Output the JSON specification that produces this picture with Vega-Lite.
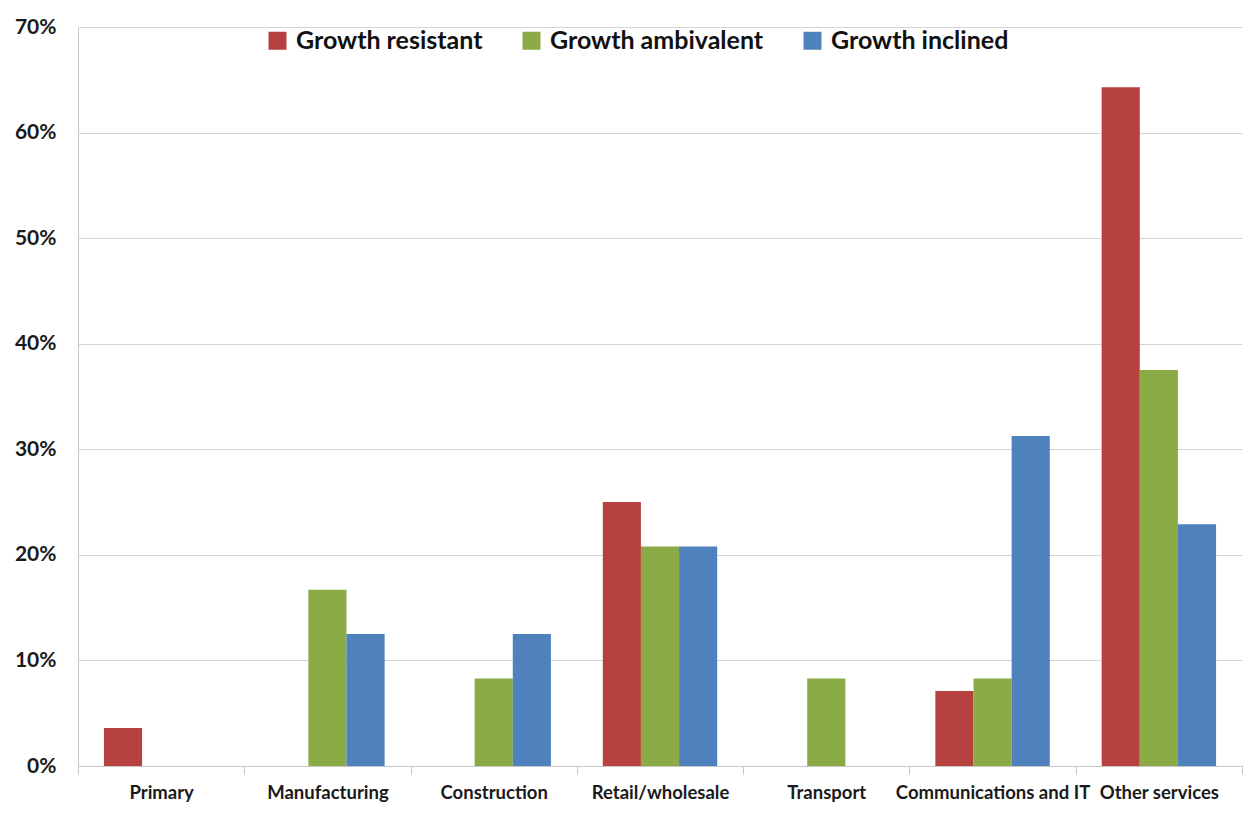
{
  "$schema": "https://vega.github.io/schema/vega-lite/v6.json",
  "autosize": {"type": "none"},
  "width": 1164,
  "height": 739,
  "padding": {"left": 78, "top": 27, "right": 12, "bottom": 56},
  "background": "white",
  "config": {"view": {"stroke": null}, "font": "Lato"},
  "data": {"values": [
    {"sector": "Primary", "group": "Growth resistant", "value": 0.036},
    {"sector": "Primary", "group": "Growth ambivalent", "value": 0},
    {"sector": "Primary", "group": "Growth inclined", "value": 0},
    {"sector": "Manufacturing", "group": "Growth resistant", "value": 0},
    {"sector": "Manufacturing", "group": "Growth ambivalent", "value": 0.167},
    {"sector": "Manufacturing", "group": "Growth inclined", "value": 0.125},
    {"sector": "Construction", "group": "Growth resistant", "value": 0},
    {"sector": "Construction", "group": "Growth ambivalent", "value": 0.083},
    {"sector": "Construction", "group": "Growth inclined", "value": 0.125},
    {"sector": "Retail/wholesale", "group": "Growth resistant", "value": 0.25},
    {"sector": "Retail/wholesale", "group": "Growth ambivalent", "value": 0.208},
    {"sector": "Retail/wholesale", "group": "Growth inclined", "value": 0.208},
    {"sector": "Transport", "group": "Growth resistant", "value": 0},
    {"sector": "Transport", "group": "Growth ambivalent", "value": 0.083},
    {"sector": "Transport", "group": "Growth inclined", "value": 0},
    {"sector": "Communications and IT", "group": "Growth resistant", "value": 0.071},
    {"sector": "Communications and IT", "group": "Growth ambivalent", "value": 0.083},
    {"sector": "Communications and IT", "group": "Growth inclined", "value": 0.3125},
    {"sector": "Other services", "group": "Growth resistant", "value": 0.643},
    {"sector": "Other services", "group": "Growth ambivalent", "value": 0.375},
    {"sector": "Other services", "group": "Growth inclined", "value": 0.229}
  ]},
  "mark": {"type": "bar"},
  "encoding": {
    "x": {
      "field": "sector", "type": "nominal", "sort": null,
      "scale": {"paddingInner": 0, "paddingOuter": 0},
      "axis": {
        "title": null, "labelAngle": 0, "labelFont": "Lato", "labelFontWeight": "bold",
        "labelFontSize": 18.5, "labelColor": "#1a1a1a", "labelPadding": 9, "labelLimit": 300,
        "domainColor": "#c8c8c8", "tickColor": "#c8c8c8", "tickSize": 8, "tickBand": "extent",
        "grid": false
      }
    },
    "xOffset": {"field": "group", "sort": ["Growth resistant", "Growth ambivalent", "Growth inclined"], "scale": {"paddingInner": 0, "paddingOuter": 0.68}},
    "y": {
      "field": "value", "type": "quantitative",
      "scale": {"domain": [0, 0.7]},
      "axis": {
        "title": null, "format": ".0%", "values": [0, 0.1, 0.2, 0.3, 0.4, 0.5, 0.6, 0.7],
        "labelFont": "Lato", "labelFontWeight": "bold", "labelFontSize": 21, "labelColor": "#1a1a1a",
        "labelPadding": 22, "ticks": false, "domain": true, "domainColor": "#c8c8c8",
        "gridColor": "#d4d4d4", "gridWidth": 1
      }
    },
    "color": {
      "field": "group", "type": "nominal",
      "sort": ["Growth resistant", "Growth ambivalent", "Growth inclined"],
      "scale": {"domain": ["Growth resistant", "Growth ambivalent", "Growth inclined"], "range": ["#B7413E", "#8AAB45", "#4F81BD"]},
      "legend": {
        "title": null, "orient": "none", "direction": "horizontal", "legendX": 187, "legendY": 1,
        "symbolType": "square", "symbolSize": 324, "symbolStrokeWidth": 0,
        "labelFont": "Lato", "labelFontWeight": "bold", "labelFontSize": 25, "labelColor": "#111",
        "labelLimit": 400, "columnPadding": 36, "labelOffset": 6
      }
    }
  }
}
